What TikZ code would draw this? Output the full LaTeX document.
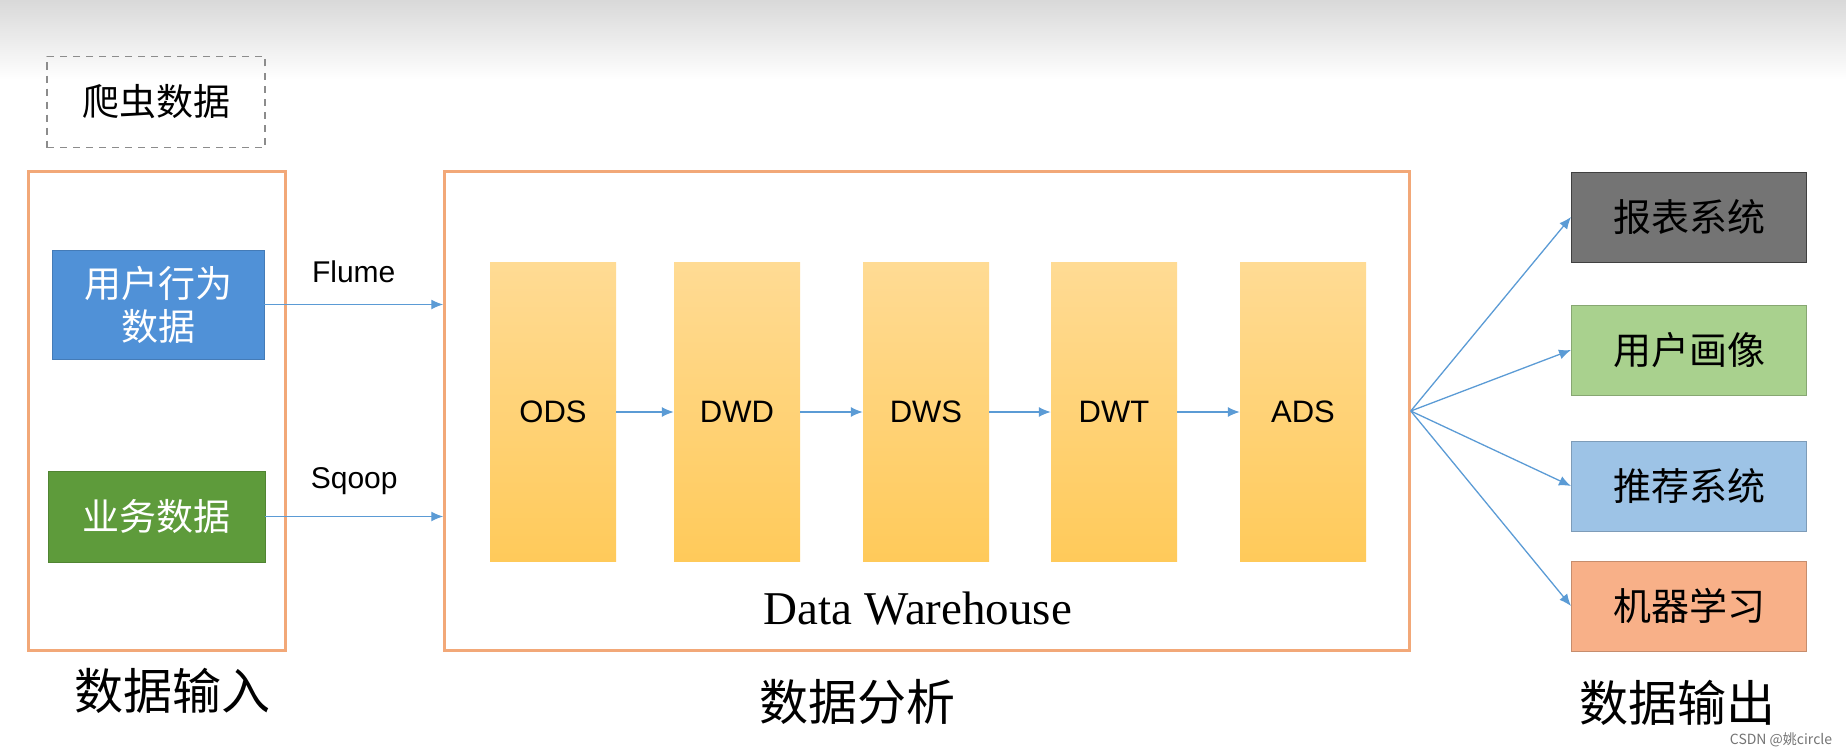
\documentclass[tikz,border=0pt]{standalone}
\usepackage{fontspec}
\setmainfont{Liberation Serif}
\newfontfamily\cjk{Noto Sans CJK SC}
\newfontfamily\arialf{Liberation Sans}
\usetikzlibrary{arrows.meta}

\definecolor{frameorange}{RGB}{242,168,120}
\definecolor{flowblue}{RGB}{91,155,213}
\definecolor{userblue}{RGB}{80,145,215}
\definecolor{bizgreen}{RGB}{94,155,59}
\definecolor{layertop}{RGB}{255,219,148}
\definecolor{layerbot}{RGB}{255,202,90}
\definecolor{reportgray}{RGB}{116,116,116}
\definecolor{profilegreen}{RGB}{169,209,142}
\definecolor{recomblue}{RGB}{157,195,230}
\definecolor{mlorange}{RGB}{248,176,136}

\begin{document}
\begin{tikzpicture}[x=1pt,y=-1pt,
    frame/.style={draw=frameorange, line width=2.5pt, minimum width=#1, minimum height=479pt, inner sep=0pt},
    srcbox/.style={fill=#1, draw=#1!85!black, text=white, minimum width=212pt, minimum height=109pt, inner sep=0pt, align=center, font=\cjk\fontsize{37}{43}\selectfont},
    layer/.style={top color=layertop, bottom color=layerbot, draw=none, minimum width=126pt, minimum height=299pt, inner sep=0pt, font=\arialf\fontsize{31}{33}\selectfont},
    outbox/.style={fill=#1, draw=#1!80!black, line width=1pt, minimum width=235pt, minimum height=90pt, inner sep=0pt, font=\cjk\fontsize{38}{40}\selectfont},
    title/.style={font=\cjk\fontsize{49}{52}\selectfont},
    flow/.style={draw=flowblue, line width=1.3pt, -{Latex[length=12pt,width=10pt]}},
    tool/.style={font=\arialf\fontsize{30}{32}\selectfont}]

  \useasboundingbox (0,0) rectangle (1846,752);
  % grey band at the top
  \shade[top color=black!15, bottom color=white] (0,0) rectangle (1846,80);

  % input side
  \node[draw=black!45, dashed, line width=1.3pt, dash pattern=on 7pt off 6pt,
        minimum width=218pt, minimum height=91pt, font=\cjk\fontsize{37}{40}\selectfont]
        (crawl) at (156,102) {爬虫数据};
  \node[frame=257pt] (input) at (157,411) {};
  \node[srcbox=userblue] (user) at (158,304.5) {用户行为\\数据};
  \node[srcbox=bizgreen, minimum width=217pt, minimum height=91pt] (biz) at (156.5,516.5) {业务数据};
  \node[title] (intitle) at (172,691) {数据输入};

  % data warehouse
  \node[frame=965pt] (dw) at (927,411) {};
  \foreach \name/\x in {ODS/553,DWD/737,DWS/926,DWT/1114,ADS/1303}
    \node[layer] (\name) at (\x,412) {\name};
  \draw[flow] (ODS) -- (DWD);
  \draw[flow] (DWD) -- (DWS);
  \draw[flow] (DWS) -- (DWT);
  \draw[flow] (DWT) -- (ADS);
  \node[font=\fontsize{47}{50}\selectfont] (dwlabel) at (918,609) {Data Warehouse};
  \node[title] (dwtitle) at (857,702) {数据分析};

  % input arrows
  \draw[flow] (user.east) -- node[tool, midway, above=18pt] (flume) {Flume} (dw.west |- user.east);
  \draw[flow] (biz.east) -- node[tool, midway, above=18pt] (sqoop) {Sqoop} (dw.west |- biz.east);

  % output side
  \node[outbox=reportgray, draw=black!75] (report) at (1689,217) {报表系统};
  \node[outbox=profilegreen] (profile) at (1689,350) {用户画像};
  \node[outbox=recomblue] (recom) at (1689,486) {推荐系统};
  \node[outbox=mlorange] (ml) at (1689,606) {机器学习};
  \coordinate (fan) at (dw.east);
  \foreach \t in {report,profile,recom,ml}
    \draw[flow] (fan) -- (\t.west);
  \node[title] (outtitle) at (1677,703) {数据输出};

  \node[font=\cjk\fontsize{14}{15}\selectfont, text=black!55] (mark) at (1781,740) {CSDN @姚circle};
\end{tikzpicture}
\end{document}
